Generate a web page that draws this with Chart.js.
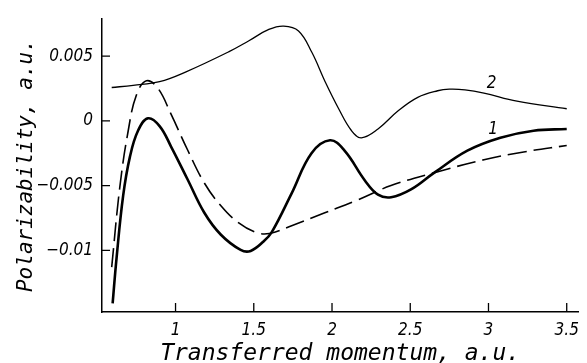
<!DOCTYPE html>
<html lang="en">
<head>
    <meta charset="UTF-8">
    <title>Polarizability vs transferred momentum</title>
    <script src="https://cdn.jsdelivr.net/npm/chart.js"></script>
    <style>
        body { margin: 0; background: #fff; }
    </style>
</head>
<body>
    <canvas id="polChart" width="587" height="363"></canvas>

    <script>
        // Curve 1 (thick solid line)
        const curve1X = [0.598, 0.623, 0.665, 0.708, 0.76, 0.824, 0.898, 0.972, 1.078, 1.184, 1.29, 1.416, 1.48, 1.564, 1.615, 1.742, 1.869, 1.987, 2.08, 2.21, 2.294, 2.378, 2.505, 2.654, 2.865, 3.076, 3.288, 3.5];
        const curve1Y = [-0.0141, -0.0106, -0.0058, -0.0028, -0.00076, 0.0002, -0.0004, -0.002, -0.00455, -0.0071, -0.0088, -0.00997, -0.01005, -0.0093, -0.0086, -0.0056, -0.0025, -0.0015, -0.0023, -0.0046, -0.0057, -0.0059, -0.0053, -0.0040, -0.0023, -0.0013, -0.00076, -0.00063];

        // Curve 2 (thin solid line)
        const curve2X = [0.592, 0.729, 0.898, 1.067, 1.342, 1.469, 1.596, 1.691, 1.786, 1.871, 1.956, 2.04, 2.125, 2.188, 2.294, 2.421, 2.548, 2.675, 2.75, 2.85, 2.971, 3.182, 3.5];
        const curve2Y = [0.00258, 0.00275, 0.00303, 0.00379, 0.00535, 0.00619, 0.00707, 0.00733, 0.00695, 0.0053, 0.00303, 0.001, -0.00076, -0.00131, -0.00063, 0.00076, 0.00182, 0.00233, 0.00245, 0.0024, 0.00215, 0.00152, 0.00094];

        // Dashed curve
        const curve3X = [0.592, 0.644, 0.697, 0.75, 0.814, 0.887, 0.972, 1.078, 1.184, 1.29, 1.395, 1.512, 1.6, 1.742, 1.954, 2.165, 2.377, 2.654, 2.971, 3.225, 3.5];
        const curve3Y = [-0.0113, -0.0051, -0.0008, 0.0020, 0.0031, 0.00253, 0.0005, -0.00227, -0.0048, -0.00656, -0.0078, -0.0086, -0.0087, -0.0081, -0.0071, -0.0061, -0.0050, -0.0040, -0.0030, -0.0024, -0.0019];

        // Axis ticks
        const xTicks = [1, 1.5, 2, 2.5, 3, 3.5];
        const yTicks = [-0.01, -0.005, 0, 0.005];
        const yTickLabels = ['\u22120.01', '\u22120.005', '0', '0.005'];

        // Curve numbers written next to the curves
        const curveLabels = ['1', '2'];
        const curveLabelX = [3.03, 3.02];
        const curveLabelY = [-0.00064, 0.0029];

        const titleFont = "'DejaVu Sans Mono', monospace";
        const tickFont = "'DejaVu Sans Condensed', 'DejaVu Sans', sans-serif";

        function toPoints(xs, ys) {
            return xs.map((x, i) => ({ x: x, y: ys[i] }));
        }

        // inward tick marks + curve numbers
        const decorPlugin = {
            id: 'decor',
            afterDraw(chart) {
                const ctx = chart.ctx;
                const xs = chart.scales.x;
                const ys = chart.scales.y;
                const area = chart.chartArea;
                ctx.save();
                ctx.strokeStyle = '#000';
                ctx.lineWidth = 1.3;
                ctx.beginPath();
                xTicks.forEach(v => {
                    let px = xs.getPixelForValue(v);
                    ctx.moveTo(px, area.bottom);
                    ctx.lineTo(px, area.bottom - 9);
                });
                yTicks.forEach(v => {
                    let py = ys.getPixelForValue(v);
                    ctx.moveTo(area.left, py);
                    ctx.lineTo(area.left + 8, py);
                });
                ctx.stroke();

                ctx.fillStyle = '#000';
                ctx.font = 'italic 17px ' + tickFont;
                ctx.textAlign = 'center';
                ctx.textBaseline = 'middle';
                curveLabels.forEach((t, i) => {
                    ctx.fillText(t, xs.getPixelForValue(curveLabelX[i]), ys.getPixelForValue(curveLabelY[i]));
                });
                ctx.restore();
            }
        };

        const ctx = document.getElementById('polChart').getContext('2d');
        const polChart = new Chart(ctx, {
            type: 'line',
            data: {
                datasets: [
                    {
                        label: '1',
                        data: toPoints(curve1X, curve1Y),
                        borderColor: '#000',
                        borderWidth: 2.6,
                        pointRadius: 0,
                        tension: 0.4,
                        fill: false
                    },
                    {
                        label: '2',
                        data: toPoints(curve2X, curve2Y),
                        borderColor: '#000',
                        borderWidth: 1.3,
                        pointRadius: 0,
                        tension: 0.4,
                        fill: false
                    },
                    {
                        label: 'dashed',
                        data: toPoints(curve3X, curve3Y),
                        borderColor: '#000',
                        borderWidth: 1.6,
                        borderDash: [19, 7],
                        pointRadius: 0,
                        tension: 0.4,
                        fill: false
                    }
                ]
            },
            options: {
                responsive: false,
                animation: false,
                layout: { padding: { top: 13, right: 5, left: 0, bottom: 0 } },
                plugins: {
                    legend: { display: false },
                    tooltip: { enabled: false }
                },
                scales: {
                    x: {
                        type: 'linear',
                        min: 0.53,
                        max: 3.574,
                        grid: { display: false, drawTicks: false },
                        border: { display: true, color: '#000', width: 1.5 },
                        afterBuildTicks: scale => { scale.ticks = xTicks.map(v => ({ value: v })); },
                        afterFit: scale => { scale.height = 51; },
                        ticks: {
                            color: '#000',
                            padding: 8,
                            maxRotation: 0,
                            font: { family: tickFont, size: 17, style: 'italic' },
                            callback: v => String(v)
                        },
                        title: {
                            display: true,
                            text: 'Transferred momentum, a.u.',
                            color: '#000',
                            padding: { top: 0, bottom: 0 },
                            font: { family: titleFont, size: 23, style: 'italic', lineHeight: 0.8 }
                        }
                    },
                    y: {
                        type: 'linear',
                        min: -0.01477,
                        max: 0.00786,
                        grid: { display: false, drawTicks: false },
                        border: { display: true, color: '#000', width: 1.5 },
                        afterBuildTicks: scale => { scale.ticks = yTicks.map(v => ({ value: v })); },
                        afterFit: scale => { scale.width = 102; },
                        ticks: {
                            color: '#000',
                            padding: 9,
                            font: { family: tickFont, size: 17, style: 'italic' },
                            callback: v => yTickLabels[yTicks.indexOf(v)]
                        },
                        title: {
                            display: true,
                            text: 'Polarizability, a.u.',
                            color: '#000',
                            padding: { top: 14, bottom: 0 },
                            font: { family: titleFont, size: 21, style: 'italic', lineHeight: 1.2 }
                        }
                    }
                }
            },
            plugins: [decorPlugin]
        });
    </script>
</body>
</html>
